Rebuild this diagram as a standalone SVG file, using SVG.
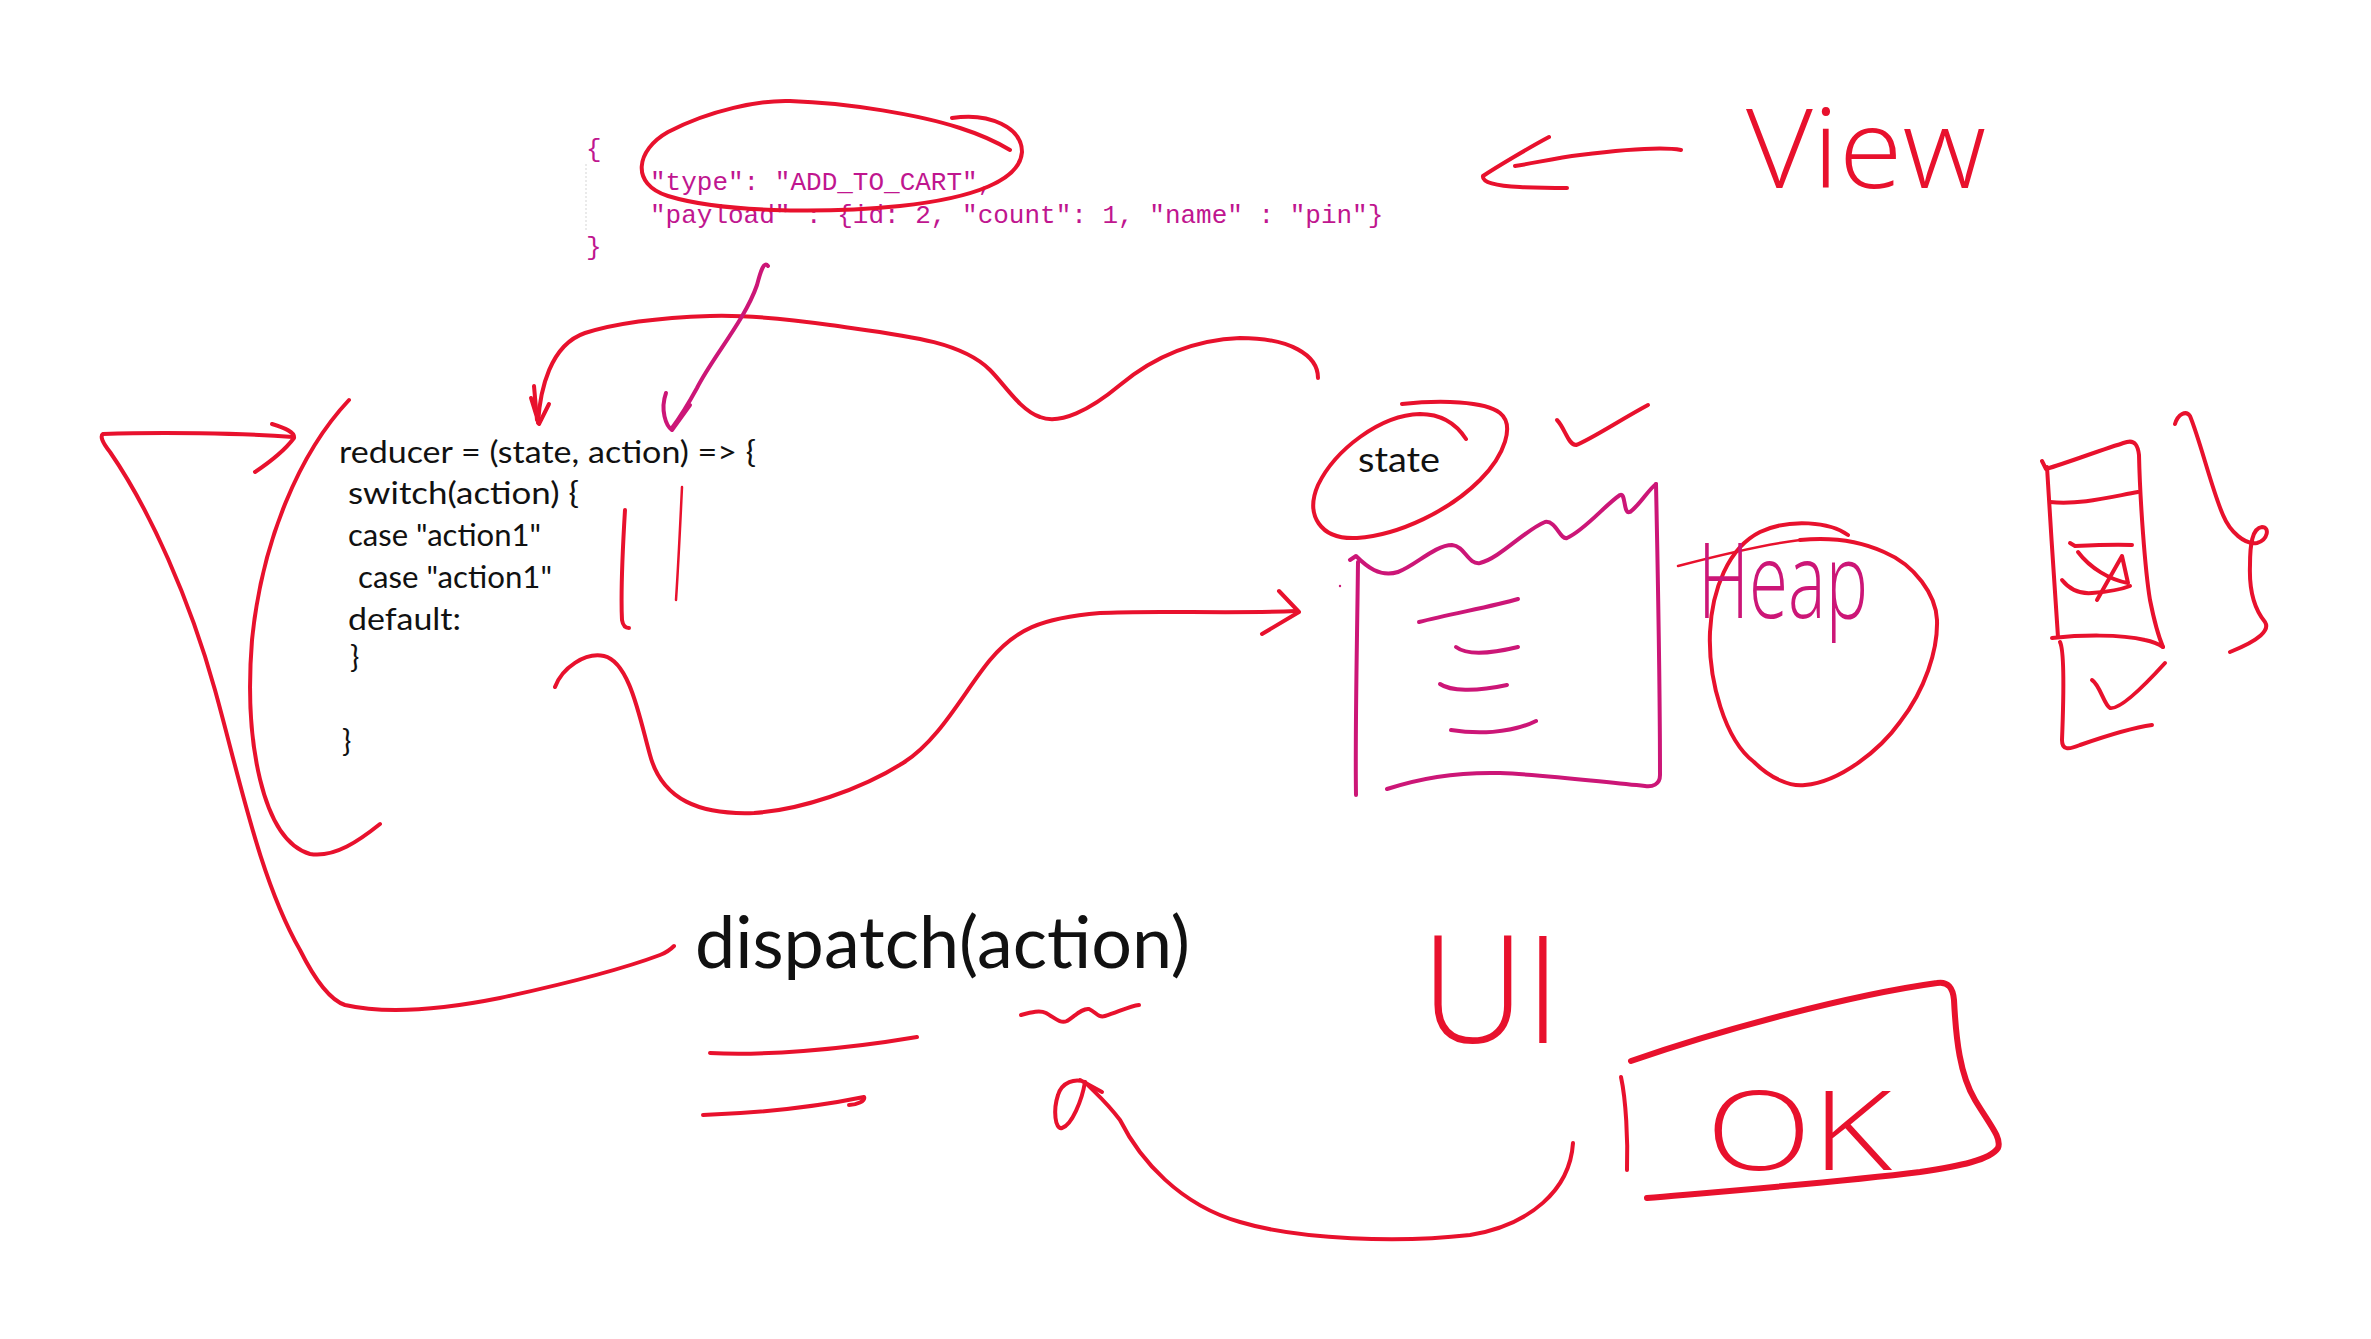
<svg xmlns="http://www.w3.org/2000/svg" width="2371" height="1339" viewBox="0 0 2371 1339">
<style>
.r{fill:none;stroke:#e8112d;stroke-width:4;stroke-linecap:round;stroke-linejoin:round}
.rt{fill:none;stroke:#e8112d;stroke-width:2.5;stroke-linecap:round;stroke-linejoin:round}
.rk{fill:none;stroke:#e8112d;stroke-width:6;stroke-linecap:round;stroke-linejoin:round}
.m{fill:none;stroke:#cc1677;stroke-width:4;stroke-linecap:round;stroke-linejoin:round}
.json{font-family:"Liberation Mono","DejaVu Sans Mono",monospace;font-size:26px;fill:#c0168f}
.code{font-family:Lato,"Open Sans","Liberation Sans",sans-serif;font-size:31px;fill:#111}
.ink{font-family:"Open Sans",Lato,"Liberation Sans",sans-serif;font-weight:300}
</style>
<rect width="2371" height="1339" fill="#ffffff"/>

<g id="json-action">
  <line x1="586" y1="164" x2="586" y2="230" stroke="#e4e4e4" stroke-width="1.5" stroke-dasharray="2 2"/>
  <text class="json" x="586" y="157">{</text>
  <text class="json" x="650" y="190">"type": "ADD_TO_CART",</text>
  <text class="json" x="650" y="223">"payload" : {id: 2, "count": 1, "name" : "pin"}</text>
  <text class="json" x="586" y="255">}</text>
  <path class="r" d="M 952,118 C 990,112 1022,128 1022,152 C 1020,180 975,198 900,206 C 820,214 720,212 668,196 C 630,184 636,150 668,132 C 710,110 760,100 790,101 C 850,103 920,115 960,128 C 985,136 1000,144 1010,150"/>
</g>

<g id="reducer">
  <text class="code" x="339" y="463" textLength="417" lengthAdjust="spacingAndGlyphs">reducer = (state, action) =&gt; {</text>
  <text class="code" x="348" y="504" textLength="231" lengthAdjust="spacingAndGlyphs">switch(action) {</text>
  <text class="code" x="348" y="546" textLength="193" lengthAdjust="spacingAndGlyphs">case "action1"</text>
  <text class="code" x="358" y="588" textLength="194" lengthAdjust="spacingAndGlyphs">case "action1"</text>
  <text class="code" x="348" y="630" textLength="113" lengthAdjust="spacingAndGlyphs">default:</text>
  <text class="code" x="350" y="668">}</text>
  <text class="code" x="342" y="752">}</text>
  <path class="r" d="M 625,510 C 622,560 621,600 622,620 C 623,626 626,628 629,628"/>
  <path class="rt" d="M 682,487 C 680,530 678,570 676,600"/>
  <path class="r" d="M 349,400 C 300,452 262,540 252,640 C 244,740 262,840 310,854 C 335,858 360,840 380,824"/>
</g>

<g id="state">
  <path class="r" d="M 1466,439 C 1455,422 1440,414 1420,414 C 1380,415 1335,450 1318,485 C 1305,515 1320,540 1357,538 C 1400,535 1450,510 1480,480 C 1505,455 1515,425 1500,413 C 1485,401 1440,400 1402,404"/>
  <text x="1358" y="472" font-family="Lato,'Open Sans',sans-serif" font-size="34" fill="#111" textLength="82" lengthAdjust="spacingAndGlyphs">state</text>
  <path class="r" d="M 1557,420 C 1565,428 1568,445 1576,445 C 1590,440 1620,420 1648,405"/>
  <g id="store-box">
    <path class="m" d="M 1350,560 L 1356,556 C 1366,566 1380,578 1398,572 C 1415,566 1435,545 1452,545 C 1465,546 1468,565 1480,563 C 1500,558 1525,530 1545,522 C 1556,520 1560,540 1567,538 C 1585,530 1605,505 1620,495 C 1626,492 1623,515 1630,512 C 1640,505 1648,490 1656,484"/>
    <path class="m" d="M 1656,484 C 1658,580 1660,700 1660,775 C 1660,785 1652,787 1645,786 C 1600,782 1550,775 1500,773 C 1460,772 1420,778 1387,789"/>
    <path class="m" d="M 1358,562 C 1357,650 1355,730 1356,795"/>
    <path class="m" d="M 1419,622 C 1450,614 1495,606 1518,599"/>
    <path class="m" d="M 1456,647 C 1465,654 1485,655 1518,647"/>
    <path class="m" d="M 1440,684 C 1450,691 1475,692 1507,685"/>
    <path class="m" d="M 1451,730 C 1475,734 1510,734 1536,721"/>
    <circle cx="1340" cy="586" r="1.2" fill="#cc1677"/>
  </g>
</g>

<g id="heap">
  <path class="r" d="M 1848,535 C 1830,522 1790,518 1760,532 C 1728,548 1712,590 1710,632 C 1708,680 1725,740 1754,762 C 1770,778 1790,787 1805,785 C 1840,782 1880,750 1900,722 C 1925,690 1938,650 1937,620 C 1936,595 1915,565 1884,552 C 1860,541 1830,537 1800,540"/>
  <path class="rt" d="M 1800,540 C 1760,545 1720,555 1678,566"/>
  <text class="ink" x="1698" y="618" font-size="106" fill="#cc1677" textLength="170" lengthAdjust="spacingAndGlyphs">Heap</text>
</g>

<g id="view">
  <text class="ink" x="1746" y="188" font-size="110" fill="#e8112d" textLength="240" lengthAdjust="spacingAndGlyphs">View</text>
</g>

<g id="right-stack">
  <path class="r" d="M 2042,461 L 2046,469 C 2070,462 2100,450 2127,442 C 2135,440 2138,446 2139,455 C 2140,500 2145,570 2150,600 C 2155,625 2160,640 2163,647"/>
  <path class="r" d="M 2047,467 C 2050,520 2055,590 2058,637"/>
  <path class="r" d="M 2052,638 C 2080,635 2120,634 2145,640 C 2155,642 2160,645 2163,647"/>
  <path class="r" d="M 2050,502 C 2080,505 2110,497 2138,492"/>
  <path class="r" d="M 2070,543 L 2075,546 C 2095,545 2115,544 2132,545"/>
  <path class="r" d="M 2078,552 C 2090,568 2110,580 2128,583 L 2122,556 L 2097,600"/>
  <path class="r" d="M 2062,580 C 2070,590 2080,594 2092,593 C 2105,592 2120,590 2130,586"/>
  <path class="r" d="M 2060,642 C 2064,650 2064,690 2062,740 C 2062,750 2068,750 2080,745 C 2100,738 2130,728 2152,725"/>
  <path class="r" d="M 2092,680 C 2100,685 2104,705 2110,708 C 2120,710 2145,685 2165,663"/>
  <path class="r" d="M 2175,424 C 2178,414 2186,410 2190,416 C 2200,440 2212,490 2223,515 C 2230,532 2245,545 2257,543 C 2268,540 2270,527 2262,527 C 2252,528 2250,545 2250,565 C 2249,590 2255,610 2265,622 C 2270,630 2260,640 2230,652"/>
</g>

<g id="dispatch">
  <text x="695" y="968" font-family="Lato,'Open Sans',sans-serif" font-size="72" fill="#111" textLength="495" lengthAdjust="spacingAndGlyphs">dispatch(action)</text>
  <path class="r" d="M 710,1053 C 760,1056 840,1050 917,1037"/>
  <path class="r" d="M 703,1115 C 760,1113 820,1106 864,1097 C 866,1101 856,1105 849,1105"/>
  <path class="r" d="M 1021,1015 C 1032,1012 1040,1010 1046,1013 C 1055,1018 1060,1024 1067,1021 C 1075,1016 1082,1008 1089,1009 C 1096,1012 1098,1018 1105,1016 C 1118,1012 1130,1006 1139,1005"/>
</g>

<g id="ui">
  <text class="ink" x="1421" y="1043" font-size="150" fill="#e8112d" textLength="140" lengthAdjust="spacingAndGlyphs">UI</text>
</g>

<g id="ok">
  <path class="r" d="M 1621,1077 C 1626,1100 1628,1140 1627,1170"/>
  <path class="rk" d="M 1631,1061 C 1720,1030 1850,995 1937,983 C 1948,981 1953,988 1954,1000 C 1956,1040 1960,1075 1975,1100 C 1990,1125 2002,1138 1998,1148 C 1990,1160 1960,1166 1920,1172 C 1840,1182 1740,1190 1647,1198"/>
  <text class="ink" x="1706" y="1170" font-size="110" fill="#e8112d" textLength="186" lengthAdjust="spacingAndGlyphs">OK</text>
</g>

<g id="connectors">
  <path class="r" d="M 1318,378 C 1318,355 1290,338 1240,338 C 1190,340 1150,360 1120,385 C 1090,410 1060,425 1040,417 C 1020,410 1005,385 990,370 C 960,340 900,335 830,325 C 780,318 740,315 710,316 C 650,318 610,325 585,333 C 550,345 540,390 538,423"/>
  <path class="r" d="M 531,398 L 539,424 L 549,404 M 534,386 L 537,420"/>
  <path class="m" d="M 768,266 C 764,261 761,270 757,285 C 745,320 712,358 697,388 C 686,408 678,420 672,428"/>
  <path class="m" d="M 666,393 C 660,410 666,426 672,430 L 690,405"/>
  <path class="r" d="M 555,687 C 562,668 585,652 604,656 C 630,662 640,720 650,755 C 662,800 700,815 754,813 C 800,810 860,790 903,763 C 940,740 965,690 990,660 C 1015,630 1040,618 1100,613 C 1150,610 1230,614 1296,611"/>
  <path class="r" d="M 1279,591 L 1299,612 L 1262,634"/>
  <path class="r" d="M 1681,150 C 1660,146 1620,150 1580,155 C 1555,158 1535,163 1515,166"/>
  <path class="r" d="M 1549,137 C 1530,147 1495,168 1483,176 C 1482,182 1495,186 1520,187 C 1540,188 1555,188 1567,188"/>
  <path class="r" d="M 293,437 C 240,433 160,432 103,434 C 100,436 102,442 110,452 C 150,510 190,600 215,690 C 240,780 260,880 300,950 C 315,980 330,1000 345,1005 C 380,1013 430,1012 500,998 C 560,985 620,970 660,955 C 668,952 672,948 674,946"/>
  <path class="r" d="M 272,424 C 285,428 295,432 294,438 C 285,450 270,462 255,472"/>
  <path class="r" d="M 1573,1143 C 1570,1190 1530,1225 1470,1235 C 1400,1243 1300,1240 1240,1222 C 1180,1205 1140,1160 1120,1120 C 1105,1100 1092,1090 1085,1082"/>
  <path class="r" d="M 1085,1082 C 1075,1078 1062,1082 1058,1095 C 1053,1110 1055,1130 1062,1128 C 1072,1125 1082,1100 1085,1082 M 1080,1080 L 1102,1092"/>
</g>
</svg>
